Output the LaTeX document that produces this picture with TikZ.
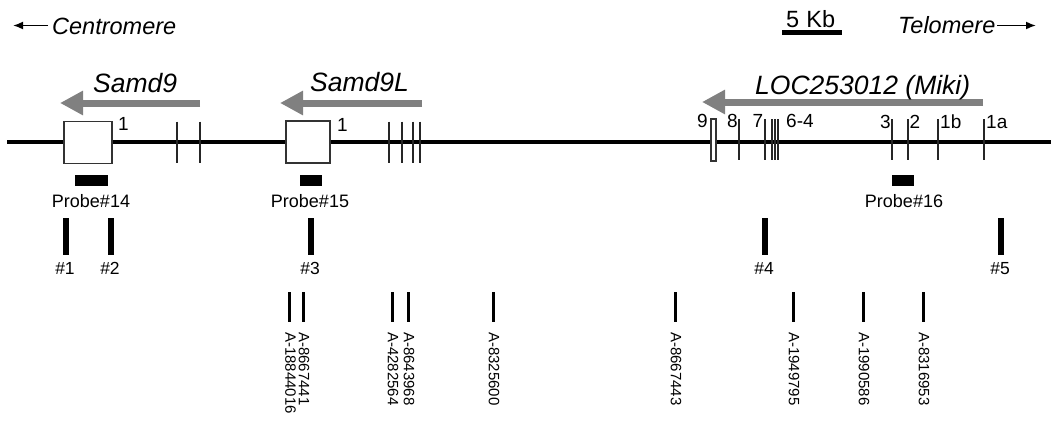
\documentclass[tikz,border=0pt]{standalone}
\usepackage{fontspec}
\setmainfont{Liberation Sans}
\usetikzlibrary{arrows.meta}

\definecolor{genegrey}{RGB}{128,128,128}

\begin{document}
\begin{tikzpicture}[x=1pt,y=-1pt,
  chrom/.style={line width=4pt, black},
  exontick/.style={line width=1.1pt, black!85},
  exonbox/.style={draw=black!80, line width=1.1pt, fill=white, inner sep=0pt, outer sep=0pt},
  gene/.style={line width=7pt, draw=genegrey, -{Triangle[length=23pt,width=23pt]}},
  genename/.style={font=\fontsize{26.5}{30}\selectfont\itshape, inner sep=0pt},
  dirlabel/.style={font=\fontsize{23.5}{27}\selectfont\itshape, inner sep=0pt},
  dirarrow/.style={line width=1.7pt, -{Latex[length=10pt,width=8pt]}},
  exonnum/.style={font=\fontsize{19}{22}\selectfont, inner sep=0pt, anchor=base west},
  probebar/.style={fill=black, inner sep=0pt, outer sep=0pt, minimum height=11pt},
  probelabel/.style={font=\fontsize{18}{21}\selectfont, inner sep=0pt, anchor=base},
  clonebar/.style={fill=black, inner sep=0pt, outer sep=0pt, minimum width=6pt, minimum height=37pt},
  clonelabel/.style={font=\fontsize{17.5}{20}\selectfont, inner sep=0pt, anchor=base},
  snpline/.style={line width=3pt},
  snplabel/.style={font=\fontsize{15}{18}\selectfont, inner sep=0pt, rotate=-90, anchor=west}
]
\useasboundingbox (0,0) rectangle (1051,420);

% orientation and scale
\coordinate (cenR) at (48,25.5);
\coordinate (cenL) at (13,25.5);
\draw[dirarrow] (cenR) -- (cenL);
\node[dirlabel, anchor=base west] (cen) at (52,34.5) {Centromere};
\node[dirlabel, anchor=base west] (tel) at (898,33.5) {Telomere};
\coordinate (telL) at (997,25.5);
\coordinate (telR) at (1036,25.5);
\draw[dirarrow] (telL) -- (telR);
\node[font=\fontsize{23.5}{26}\selectfont, inner sep=0pt, anchor=base west] (kb) at (786,27.7) {5\hspace{0.3em}Kb};
\coordinate (sbL) at (782,32.5);
\coordinate (sbR) at (842,32.5);
\draw[line width=5pt] (sbL) -- (sbR);

% genes and transcription direction
\coordinate (g9a) at (200,103);
\coordinate (g9b) at (60,103);
\draw[gene] (g9a) -- (g9b);
\node[genename, anchor=base west] (n9) at (93,92.7) {Samd9};

\coordinate (g9La) at (422,103);
\coordinate (g9Lb) at (280,103);
\draw[gene] (g9La) -- (g9Lb);
\node[genename, anchor=base west] (n9L) at (310,91.7) {Samd9L};

\coordinate (gMa) at (983,102);
\coordinate (gMb) at (702,102);
\draw[gene] (gMa) -- (gMb);
\node[genename, anchor=base west] (nM) at (755,94) {LOC253012 (Miki)};

% chromosome
\coordinate (chL) at (7,142);
\coordinate (chR) at (1051,142);
\draw[chrom] (chL) -- (chR);

% exons
\foreach \x in {177,200,389,402,413,420}
  \draw[exontick] (\x,121.7) -- (\x,163.3);
\foreach \x in {739,765,772,775,778,892,908,938,984}
  \draw[exontick] (\x,119) -- (\x,160);

\node[exonbox, minimum width=48pt, minimum height=42pt] (e9) at (88,142.2) {};
\node[exonbox, minimum width=44pt, minimum height=42pt] (e9L) at (308,142) {};
\node[exonbox, minimum width=5pt, minimum height=42pt] (eM9) at (713.5,140) {};

\node[exonnum] at (118,130) {1};
\node[exonnum] at (337,131) {1};
\node[exonnum] at (697,127.5) {9};
\node[exonnum] at (727,127.5) {8};
\node[exonnum] at (752.5,127.5) {7};
\node[exonnum] at (786,127.5) {6-4};
\node[exonnum] at (880,128.5) {3};
\node[exonnum] at (909.5,128.5) {2};
\node[exonnum] at (940,128.5) {1b};
\node[exonnum] at (986,128.5) {1a};

% hybridisation probes
\node[probebar, minimum width=33pt] (p14) at (91.5,180.5) {};
\node[probelabel] at (91,207) {Probe\#14};
\node[probebar, minimum width=22pt] (p15) at (311,180.5) {};
\node[probelabel] at (310,207) {Probe\#15};
\node[probebar, minimum width=22pt] (p16) at (903,180.5) {};
\node[probelabel] at (904,207) {Probe\#16};

% numbered clones
\foreach \x/\t in {66/1,111/2,311/3,765/4,1001/5} {
  \node[clonebar] (c\t) at (\x,236.5) {};
  \node[clonelabel] at (\x-1,274) {\#\t};
}

% markers
\foreach \x/\t in {289.5/A-18844016,303/A-8667441,392/A-4282564,408/A-8643968,
                   493/A-8325600,675/A-8667443,793/A-1949795,863/A-1990586,923/A-8316953} {
  \draw[snpline] (\x,292) -- (\x,322);
  \node[snplabel] at (\x+1,332) {\t};
}
\end{tikzpicture}
\end{document}
